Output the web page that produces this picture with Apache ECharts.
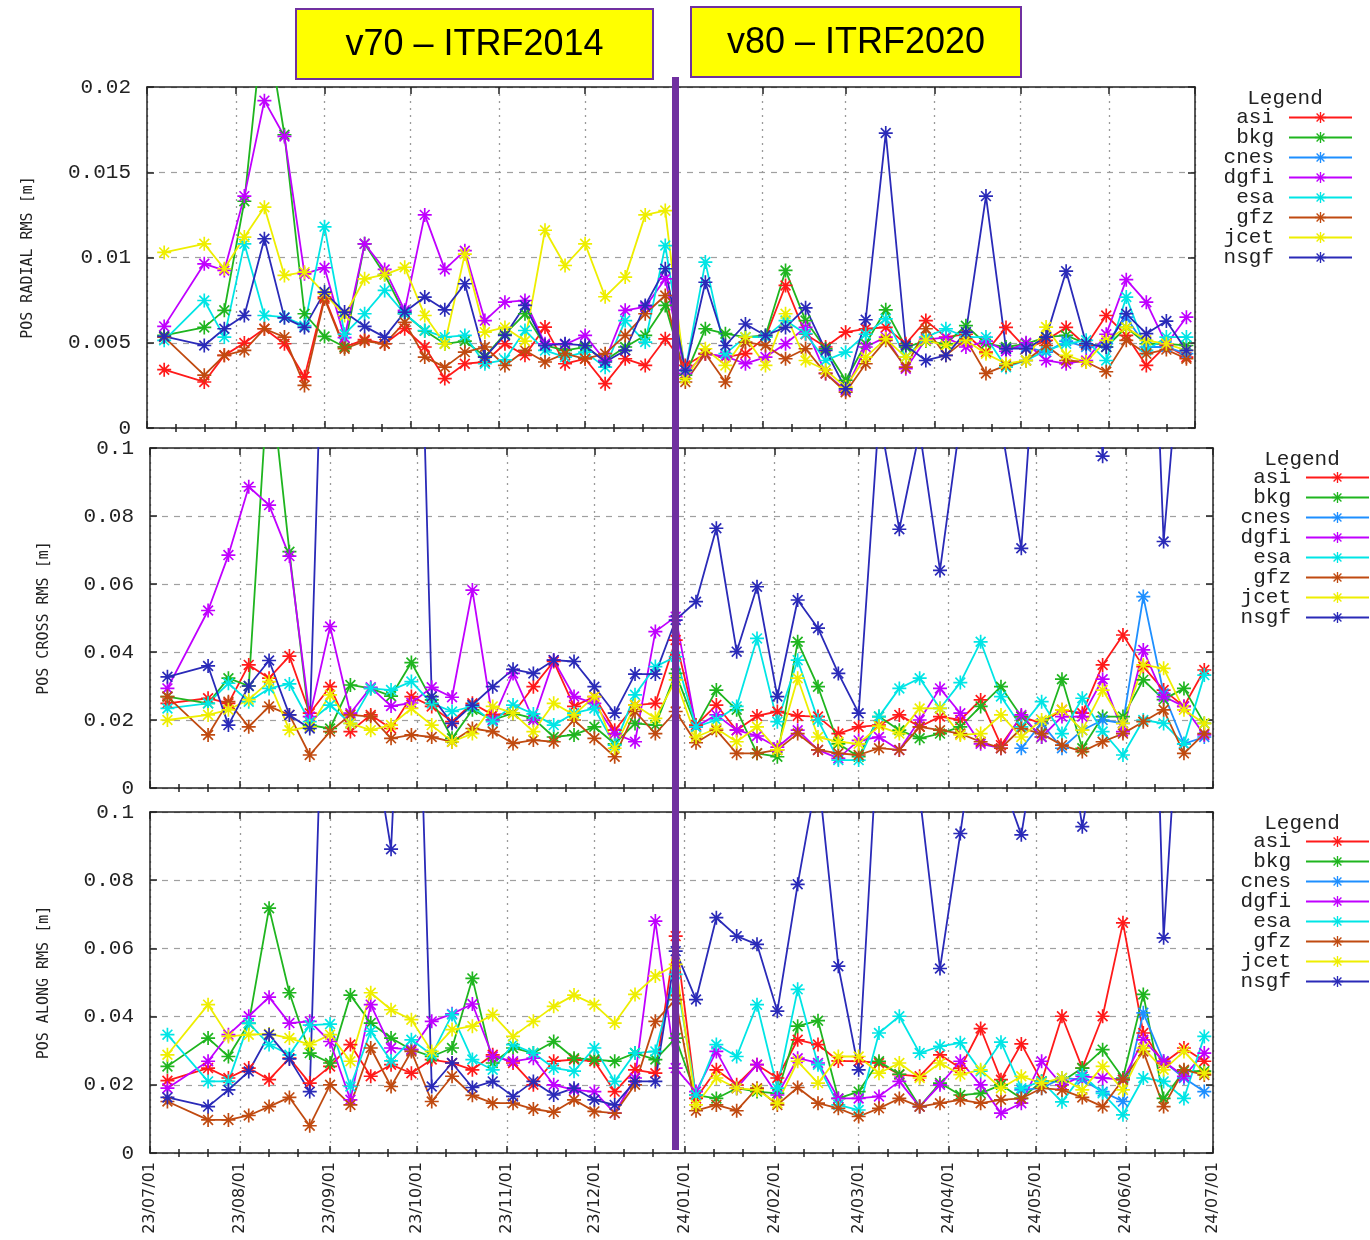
<!DOCTYPE html>
<html><head><meta charset="utf-8">
<script src="https://cdn.jsdelivr.net/npm/echarts@6/dist/echarts.min.js"></script>
<style>html,body{margin:0;padding:0;background:#fff}#c{width:1370px;height:1240px}</style>
</head><body><div id="c"></div>
<script>
// ---- categories (weekly solutions) ----
const dates = ['2023-07-07','2023-07-14','2023-07-21','2023-07-28','2023-08-04','2023-08-11','2023-08-18','2023-08-25',
'2023-09-01','2023-09-08','2023-09-15','2023-09-22','2023-09-29','2023-10-06','2023-10-13','2023-10-20','2023-10-27',
'2023-11-03','2023-11-10','2023-11-17','2023-11-24','2023-12-01','2023-12-08','2023-12-15','2023-12-22','2023-12-29',
'2024-01-05','2024-01-12','2024-01-19','2024-01-26','2024-02-02','2024-02-09','2024-02-16','2024-02-23',
'2024-03-01','2024-03-08','2024-03-15','2024-03-22','2024-03-29','2024-04-05','2024-04-12','2024-04-19','2024-04-26',
'2024-05-03','2024-05-10','2024-05-17','2024-05-24','2024-05-31','2024-06-07','2024-06-14','2024-06-21','2024-06-28'];
const monthTicks = ['2023-07-01','2023-08-01','2023-09-01','2023-10-01','2023-11-01','2023-12-01','2024-01-01',
'2024-02-01','2024-03-01','2024-04-01','2024-05-01','2024-06-01','2024-07-01'];
const minorTicks = ['2023-07-11','2023-07-21','2023-08-11','2023-08-21','2023-09-11','2023-09-21','2023-10-11','2023-10-21',
'2023-11-11','2023-11-21','2023-12-11','2023-12-21','2024-01-11','2024-01-21','2024-02-11','2024-02-21','2024-03-11','2024-03-21',
'2024-04-11','2024-04-21','2024-05-11','2024-05-21','2024-06-11','2024-06-21'];
const names = ['asi','bkg','cnes','dgfi','esa','gfz','jcet','nsgf'];
const colors = ['#ff1a1a','#1fb51f','#1e8fff','#c000ff','#00e5e5','#c04a10','#eeee00','#2a2ab8'];
const radialTicks = [0, 0.005, 0.01, 0.015, 0.02];
const crossTicks = [0, 0.02, 0.04, 0.06, 0.08, 0.1];

// ---- POS RADIAL RMS [m] ----
const radialAsi = [0.00342,null,0.0027,0.00426,0.00498,0.00582,0.00494,0.0030,0.00768,0.00475,0.00518,0.00494,0.00582,0.00475,0.0029,0.00377,0.00387,0.00494,0.00426,0.00592,0.00377,0.00406,0.0026,0.00406,0.00367,0.00523,0.00367,0.00436,0.00416,0.00436,0.00533,0.00836,0.0055,0.00475,0.00562,0.00582,0.0059,0.00494,0.0063,0.00533,0.0055,0.00445,0.0059,0.00465,0.00514,0.0059,0.00484,0.0066,0.00543,0.00367,0.00484,0.00416];
const radialBkg = [0.00543,null,0.0059,0.0069,0.0133,0.0245,0.0172,0.0067,0.00537,0.00475,0.0108,0.009,0.0067,0.0057,0.00494,0.0051,0.0042,0.0055,0.0067,0.00484,0.00455,0.00475,0.00396,0.00475,0.00543,0.00719,0.0031,0.00582,0.00553,0.00533,0.00543,0.00924,0.0063,0.00465,0.0028,0.00494,0.00693,0.00475,0.0051,0.00494,0.006,0.00494,0.00475,0.00494,0.00533,0.00543,0.00494,0.00475,0.0059,0.00494,0.00494,0.00484];
const radialCnes = [null,null,null,null,null,null,null,null,null,null,null,null,null,null,null,null,null,null,null,null,null,null,null,null,null,null,null,null,null,null,null,null,null,null,null,null,null,null,null,null,null,null,0.00465,0.00475,0.00445,0.0051,0.00475,0.00494,0.0065,0.00475,0.00475,0.00436];
const radialDgfi = [0.00596,null,0.00963,0.00924,0.0136,0.0192,0.0171,0.00904,0.0094,0.0053,0.0108,0.0093,0.0069,0.0125,0.0093,0.0104,0.0063,0.00738,0.00748,0.00494,0.0049,0.00543,0.00396,0.0069,0.0071,0.00875,0.0032,0.00435,0.0042,0.00377,0.00416,0.00494,0.0059,0.0032,0.0022,0.00475,0.00533,0.00348,0.0052,0.0053,0.00475,0.0051,0.0045,0.005,0.00396,0.00377,0.00396,0.0055,0.0087,0.00738,0.0049,0.0065];
const radialEsa = [0.00514,null,0.00748,0.00533,0.0108,0.0066,0.0065,0.006,0.0118,0.0055,0.0067,0.00807,0.0067,0.00572,0.00533,0.00543,0.00377,0.004,0.00572,0.00455,0.00416,0.00445,0.00357,0.0063,0.00504,0.0107,0.00338,0.00973,0.00436,0.00533,0.00533,0.0063,0.00553,0.00396,0.00445,0.0055,0.0064,0.00416,0.00533,0.00582,0.00533,0.00533,0.00357,0.00396,0.00455,0.00494,0.00514,0.00396,0.00768,0.00455,0.00533,0.00533];
const radialGfz = [0.00533,null,0.0031,0.00426,0.00455,0.00582,0.00533,0.0025,0.00758,0.00465,0.0051,0.00494,0.0062,0.00416,0.00357,0.00445,0.00475,0.00367,0.00455,0.00387,0.00436,0.00406,0.00436,0.00543,0.0067,0.00777,0.0027,0.00436,0.0027,0.00504,0.00484,0.00406,0.00465,0.0032,0.0021,0.00377,0.00514,0.00357,0.00582,0.00426,0.0052,0.0032,0.00367,0.00396,0.00484,0.00396,0.00387,0.0033,0.00514,0.00436,0.0046,0.00406];
const radialJcet = [0.0103,null,0.0108,0.00934,0.0112,0.01295,0.00895,0.00914,0.0079,0.0066,0.00875,0.009,0.00943,0.0066,0.00494,0.0102,0.00562,0.0059,0.0051,0.0116,0.00953,0.0108,0.0077,0.00885,0.0125,0.01275,0.0029,0.00465,0.00367,0.00533,0.00367,0.0067,0.00396,0.0034,0.0024,0.00416,0.00523,0.00416,0.00514,0.00484,0.00514,0.00436,0.00377,0.00396,0.00592,0.00426,0.00387,0.00514,0.0059,0.00514,0.00494,0.00455];
const radialNsgf = [0.00537,null,0.00484,0.00582,0.0066,0.0111,0.00646,0.0059,0.00797,0.0068,0.00596,0.00533,0.0068,0.00768,0.00693,0.00846,0.00416,0.00543,0.00719,0.00484,0.00494,0.00484,0.00387,0.00455,0.00719,0.00934,0.00338,0.00855,0.00484,0.0061,0.00543,0.0059,0.00705,0.00455,0.0023,0.00635,0.0173,0.00484,0.00396,0.00426,0.00562,0.0136,0.00465,0.00465,0.00533,0.0092,0.00494,0.00475,0.0067,0.00553,0.00627,0.00455];

// ---- POS CROSS RMS [m] ----
const crossAsi = [0.0249,null,0.0264,0.0249,0.0362,0.0323,0.0388,0.022,0.0298,0.0166,0.0215,0.0175,0.0269,0.024,0.0195,0.0249,0.0215,0.022,0.0298,0.0372,0.024,0.0269,0.017,0.0244,0.0249,0.0435,0.0185,0.0244,0.017,0.0212,0.0225,0.0212,0.021,0.016,0.018,0.0185,0.0215,0.018,0.021,0.02,0.0259,0.0126,0.021,0.019,0.023,0.022,0.0362,0.045,0.0357,0.0288,0.024,0.0347];
const crossBkg = [0.0269,null,0.0249,0.0323,0.030,0.125,0.0695,0.0185,0.0175,0.0303,0.0293,0.027,0.0369,0.0259,0.0146,0.023,0.020,0.022,0.0205,0.015,0.0156,0.018,0.013,0.019,0.0185,0.0337,0.018,0.0288,0.023,0.0102,0.0092,0.043,0.0298,0.013,0.0092,0.021,0.017,0.0146,0.016,0.018,0.024,0.0298,0.021,0.015,0.032,0.0117,0.021,0.021,0.0318,0.026,0.0293,0.019];
const crossCnes = [null,null,null,null,null,null,null,null,null,null,null,null,null,null,null,null,null,null,null,null,null,null,null,null,null,null,null,null,null,null,null,null,null,null,null,null,null,null,null,null,null,null,0.0117,0.019,0.0117,0.017,0.020,0.019,0.0563,0.0278,0.013,0.015];
const crossDgfi = [0.0293,null,0.0522,0.0685,0.0886,0.0832,0.0682,0.021,0.0475,0.022,0.0296,0.0241,0.025,0.0296,0.0267,0.0582,0.020,0.0337,0.020,0.0376,0.0269,0.0249,0.016,0.0136,0.046,0.0504,0.018,0.0215,0.017,0.0153,0.012,0.017,0.0112,0.0087,0.014,0.015,0.0112,0.020,0.0293,0.022,0.013,0.0117,0.0215,0.015,0.021,0.021,0.032,0.0166,0.0406,0.0269,0.024,0.0156];
const crossEsa = [0.0234,null,0.0249,0.0308,0.0254,0.0293,0.0306,0.0195,0.0244,0.019,0.0293,0.0288,0.0313,0.0249,0.0225,0.024,0.0195,0.0244,0.0218,0.0185,0.022,0.0234,0.0126,0.0274,0.0357,0.0386,0.018,0.020,0.024,0.044,0.0195,0.0376,0.020,0.0082,0.0082,0.021,0.0293,0.0323,0.0234,0.031,0.043,0.0269,0.018,0.0254,0.016,0.0264,0.0166,0.0097,0.020,0.019,0.013,0.0332];
const crossGfz = [0.0269,null,0.0156,0.0254,0.018,0.024,0.0215,0.0097,0.0166,0.0215,0.021,0.0146,0.0156,0.015,0.0136,0.0175,0.0166,0.0131,0.0141,0.0136,0.020,0.0146,0.0092,0.0225,0.016,0.0225,0.0133,0.017,0.0102,0.0102,0.0112,0.016,0.0112,0.0102,0.0097,0.0117,0.0112,0.018,0.017,0.016,0.0136,0.0117,0.0175,0.016,0.0126,0.0107,0.0136,0.016,0.0195,0.023,0.0102,0.016];
const crossJcet = [0.020,null,0.0215,0.023,0.026,0.0313,0.017,0.018,0.0274,0.019,0.017,0.0185,0.0234,0.0185,0.0136,0.016,0.024,0.022,0.0166,0.0249,0.0215,0.0269,0.0117,0.0244,0.0205,0.0318,0.015,0.0175,0.0136,0.018,0.0112,0.0323,0.015,0.0136,0.013,0.0182,0.016,0.0234,0.0234,0.0156,0.016,0.0215,0.015,0.020,0.023,0.017,0.0288,0.019,0.0362,0.0352,0.023,0.019];
const crossNsgf = [0.0327,null,0.0359,0.0185,0.030,0.0375,0.0215,0.0175,0.214,0.30,0.28,0.26,0.248,0.0269,0.019,0.0244,0.0298,0.0349,0.0337,0.0376,0.0372,0.0298,0.022,0.0335,0.0335,0.0494,0.0548,0.0764,0.0401,0.0592,0.0269,0.0553,0.047,0.0337,0.022,0.110,0.0761,0.105,0.064,0.108,0.130,0.107,0.0705,0.157,0.20,0.20,0.0976,0.20,0.225,0.0725,0.143,0.150];

// ---- POS ALONG RMS [m] ----
const alongAsi = [0.0212,null,0.0249,0.022,0.0249,0.0215,0.0278,0.0205,0.0254,0.0318,0.0225,0.0259,0.0234,0.0274,0.0264,0.0244,0.0288,0.0264,0.020,0.0269,0.0274,0.0269,0.018,0.0244,0.0234,0.0636,0.016,0.0244,0.020,0.0259,0.022,0.0332,0.0318,0.027,0.0269,0.0264,0.023,0.0225,0.0288,0.0249,0.0365,0.0215,0.032,0.021,0.0401,0.0249,0.0401,0.0675,0.0352,0.0264,0.0308,0.0269];
const alongBkg = [0.0254,null,0.0337,0.0283,0.038,0.0718,0.047,0.0293,0.0264,0.0463,0.0381,0.0337,0.0303,0.0283,0.0308,0.0512,0.0264,0.0308,0.0293,0.0327,0.0278,0.0274,0.0269,0.0293,0.0274,0.0337,0.017,0.016,0.019,0.018,0.0175,0.0372,0.0388,0.016,0.018,0.0269,0.0231,0.0136,0.0205,0.017,0.0175,0.020,0.016,0.021,0.021,0.0249,0.0303,0.022,0.0465,0.016,0.024,0.024];
const alongCnes = [null,null,null,null,null,null,null,null,null,null,null,null,null,null,null,null,null,null,null,null,null,null,null,null,null,null,null,null,null,null,null,null,null,null,null,null,null,null,null,null,null,null,0.0185,0.019,0.022,0.0215,0.018,0.0151,0.0411,0.0269,0.022,0.018];
const alongDgfi = [0.019,null,0.0269,0.0347,0.0401,0.0457,0.0381,0.0386,0.0327,0.0156,0.0435,0.0308,0.0303,0.0386,0.0408,0.0437,0.0283,0.0269,0.0278,0.020,0.0185,0.018,0.0117,0.022,0.068,0.0249,0.018,0.0298,0.019,0.0259,0.017,0.0278,0.0264,0.016,0.016,0.0166,0.021,0.0136,0.020,0.0269,0.020,0.0117,0.0146,0.0269,0.020,0.0225,0.022,0.0215,0.0332,0.0269,0.0225,0.0293];
const alongEsa = [0.0347,null,0.021,0.021,0.0381,0.0318,0.0288,0.0375,0.0378,0.0195,0.0357,0.027,0.0332,0.0288,0.0406,0.0274,0.0244,0.0318,0.0293,0.0249,0.024,0.0308,0.021,0.0293,0.0298,0.0524,0.017,0.0318,0.0283,0.0435,0.019,0.048,0.0259,0.0141,0.0126,0.0352,0.0401,0.0293,0.0313,0.0323,0.024,0.0325,0.019,0.021,0.015,0.0229,0.0175,0.0112,0.022,0.021,0.016,0.0342];
const alongGfz = [0.0151,null,0.0097,0.0097,0.011,0.0136,0.0163,0.008,0.020,0.0141,0.0308,0.0195,0.0298,0.0151,0.0225,0.0169,0.0146,0.0146,0.0129,0.012,0.0156,0.0122,0.0117,0.020,0.0386,0.045,0.0124,0.0141,0.0124,0.019,0.0141,0.0192,0.0146,0.0131,0.0107,0.0131,0.016,0.0136,0.0146,0.0156,0.0146,0.0156,0.016,0.019,0.0185,0.0163,0.0136,0.0215,0.0298,0.0136,0.0244,0.0229];
const alongJcet = [0.0288,null,0.0435,0.0342,0.0347,0.0349,0.0337,0.0318,0.0347,0.0269,0.047,0.042,0.0391,0.0298,0.0362,0.0372,0.0406,0.0342,0.0386,0.043,0.0463,0.0435,0.0381,0.0465,0.0519,0.0553,0.0141,0.022,0.019,0.0185,0.0146,0.0269,0.0205,0.0283,0.0283,0.0234,0.0264,0.022,0.0264,0.023,0.0244,0.019,0.0225,0.0205,0.022,0.0185,0.0254,0.0185,0.0308,0.0244,0.0298,0.0234];
const alongNsgf = [0.0163,null,0.0136,0.0185,0.0239,0.0347,0.0276,0.018,0.209,0.20,0.126,0.0891,0.216,0.0195,0.0264,0.0192,0.021,0.0166,0.021,0.017,0.019,0.0156,0.0141,0.021,0.021,0.0592,0.045,0.069,0.0636,0.0612,0.0416,0.0788,0.112,0.0548,0.0244,0.129,0.20,0.105,0.0541,0.0937,0.136,0.110,0.0933,0.130,0.135,0.0957,0.129,0.20,0.268,0.0631,0.158,0.150];

const panels = [
  {title:'POS RADIAL RMS [m]', max:0.02, interval:0.005, gap:111,
   vals:[radialAsi,radialBkg,radialCnes,radialDgfi,radialEsa,radialGfz,radialJcet,radialNsgf]},
  {title:'POS CROSS RMS [m]', max:0.1, interval:0.02, gap:98,
   vals:[crossAsi,crossBkg,crossCnes,crossDgfi,crossEsa,crossGfz,crossJcet,crossNsgf]},
  {title:'POS ALONG RMS [m]', max:0.1, interval:0.02, gap:98,
   vals:[alongAsi,alongBkg,alongCnes,alongDgfi,alongEsa,alongGfz,alongJcet,alongNsgf]}
];

const T0 = Date.parse(monthTicks[0]), T1 = Date.parse(monthTicks[monthTicks.length-1]);
const monthVals = monthTicks.map(d => Date.parse(d));
const minorVals = minorTicks.map(d => Date.parse(d));
const STAR = 'path://M-1.2,-10L1.2,-10L1.2,10L-1.2,10Z M-10,-1.2L10,-1.2L10,1.2L-10,1.2Z M-6.15,-7.85L7.85,6.15L6.15,7.85L-7.85,-6.15Z M-7.85,6.15L6.15,-7.85L7.85,-6.15L-6.15,7.85Z';
const pad2 = n => (n < 10 ? '0' : '') + n;
const fmt = v => { const d = new Date(v); return pad2(d.getUTCFullYear() % 100) + '/' + pad2(d.getUTCMonth()+1) + '/' + pad2(d.getUTCDate()); };

const grids = [
  {left:147, top:87, width:1048, height:341, outerBoundsMode:'none'},
  {left:150, top:448, width:1063, height:340, outerBoundsMode:'none'},
  {left:150, top:812, width:1063, height:341, outerBoundsMode:'none'}
];
const frame = {color:'#222', width:1.5};
const xAxis = [], yAxis = [], series = [], legend = [];
panels.forEach((p, g) => {
  const base = {type:'value', gridIndex:g, min:T0, max:T1};
  xAxis.push(Object.assign({}, base, {position:'bottom',
    axisLine:{show:true, onZero:false, lineStyle:frame},
    axisTick:{show:true, inside:true, length:7, customValues:monthVals, lineStyle:frame},
    axisLabel:{show:g===2, customValues:monthVals, rotate:90, formatter:fmt, margin:9,
      fontFamily:'DejaVu Sans', fontSize:16, color:'#222'},
    splitLine:{show:true, lineStyle:{color:'#9a9a9a', type:[2,5], width:1.3}}}));
  xAxis.push(Object.assign({}, base, {position:'top',
    axisLine:{show:true, onZero:false, lineStyle:frame},
    axisTick:{show:true, inside:true, length:7, customValues:monthVals, lineStyle:frame},
    axisLabel:{show:false}, splitLine:{show:false}}));
  ['bottom','top'].forEach(pos => xAxis.push(Object.assign({}, base, {position:pos,
    axisLine:{show:false}, axisTick:{show:true, inside:true, length:4, customValues:minorVals, lineStyle:frame},
    axisLabel:{show:false}, splitLine:{show:false}})));
  yAxis.push({type:'value', gridIndex:g, min:0, max:p.max, interval:p.interval, position:'left',
    name:p.title, nameLocation:'middle', nameRotate:90, nameGap:p.gap,
    nameTextStyle:{fontFamily:'DejaVu Sans Mono', fontSize:15, color:'#222'},
    axisLine:{show:true, onZero:false, lineStyle:frame},
    axisTick:{show:true, inside:true, length:7, lineStyle:frame},
    axisLabel:{margin:16, fontFamily:'Liberation Mono', fontSize:21, color:'#222'},
    splitLine:{show:true, lineStyle:{color:'#a0a0a0', type:[6,6], width:1.2}}});
  yAxis.push({type:'value', gridIndex:g, min:0, max:p.max, interval:p.interval, position:'right',
    axisLine:{show:true, onZero:false, lineStyle:frame},
    axisTick:{show:true, inside:true, length:7, lineStyle:frame},
    axisLabel:{show:false}, splitLine:{show:false}});
  names.forEach((n, k) => {
    series.push({type:'line', name:n, xAxisIndex:4*g, yAxisIndex:2*g,
      data: dates.map((d, i) => [Date.parse(d), p.vals[k][i]]),
      connectNulls:true, symbol:STAR, symbolSize:14, showSymbol:true, clip:true,
      lineStyle:{width:1.8, color:colors[k]}, itemStyle:{color:colors[k], borderWidth:0},
      emphasis:{disabled:true}, animation:false});
  });
});
const legendPos = [{right:17, top:107}, {right:0, top:467}, {right:0, top:831}];
legendPos.forEach(lp => legend.push(Object.assign({data:names, orient:'vertical', align:'right',
  itemWidth:63, itemHeight:14, itemGap:-1, padding:0, selectedMode:false,
  textStyle:{fontFamily:'Liberation Mono', fontSize:21, color:'#222', padding:[0,10,0,0]}}, lp)));

const legendTitle = (x, y) => ({type:'text', x:x, y:y, z:50,
  style:{text:'Legend', font:'21px "Liberation Mono"', fill:'#222', align:'center', verticalAlign:'middle'}});
const graphic = [
  {type:'rect', z:100, shape:{x:296, y:9, width:357, height:70}, style:{fill:'#ffff00', stroke:'#7030a0', lineWidth:2}},
  {type:'text', z:101, x:474.5, y:45, style:{text:'v70 \u2013 ITRF2014', font:'36px "Liberation Sans"', fill:'#000', align:'center', verticalAlign:'middle'}},
  {type:'rect', z:100, shape:{x:691, y:7, width:330, height:70}, style:{fill:'#ffff00', stroke:'#7030a0', lineWidth:2}},
  {type:'text', z:101, x:856, y:43, style:{text:'v80 \u2013 ITRF2020', font:'36px "Liberation Sans"', fill:'#000', align:'center', verticalAlign:'middle'}},
  {type:'line', z:100, shape:{x1:675.5, y1:77, x2:675.5, y2:1150}, style:{stroke:'#7030a0', lineWidth:7}},
  legendTitle(1285, 98), legendTitle(1302, 459), legendTitle(1302, 823)
];

const chart = echarts.init(document.getElementById('c'), null, {renderer:'canvas'});
chart.setOption({backgroundColor:'#ffffff', animation:false, grid:grids, xAxis:xAxis, yAxis:yAxis,
  series:series, legend:legend, graphic:graphic});
</script></body></html>
